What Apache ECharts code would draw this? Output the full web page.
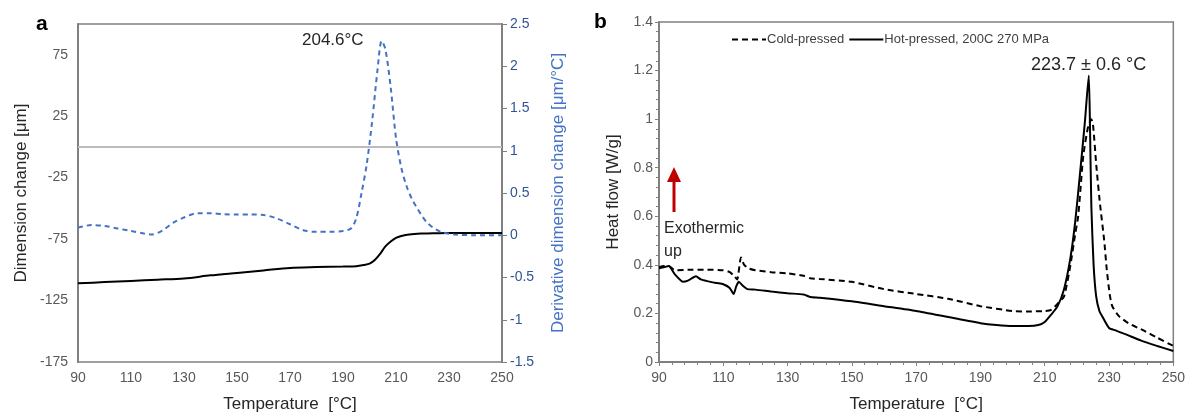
<!DOCTYPE html>
<html><head><meta charset="utf-8">
<script src="https://cdn.jsdelivr.net/npm/echarts@6/dist/echarts.min.js"></script>
<style>html,body{margin:0;padding:0;background:#fff}#c{width:1188px;height:418px}</style>
</head><body><div id="c"></div>
<script>
// ---------- Panel a ----------
const tempDim = [90,100,110,120,130,140,150,160,170,180,190,195,198,200,202,204,206,208,210,212,215,220,225,230,240,250];
const dimChange = [-111,-110,-109,-108,-107,-104.5,-102.5,-100.5,-98.5,-97.8,-97.3,-97,-96,-95,-92,-87,-81,-77,-74,-72.5,-71.2,-70.5,-70.2,-70,-70,-70];

const tempDeriv = [90,95,100,105,110,115,118,122,126,130,135,140,145,150,155,160,165,170,175,180,185,190,193,195,197,199,201,203,204.6,206,208,210,212,214,216,218,220,222,225,228,232,240,250];
const derivChange = [0.09,0.12,0.11,0.08,0.05,0.02,0.01,0.06,0.15,0.21,0.26,0.26,0.25,0.245,0.245,0.24,0.2,0.13,0.06,0.04,0.04,0.05,0.08,0.2,0.5,0.85,1.35,1.95,2.30,2.2,1.75,1.15,0.8,0.58,0.43,0.32,0.22,0.14,0.07,0.03,0.01,0,0];

// ---------- Panel b ----------
const tempHot = [90,91.5,93,95,97.5,99,101.5,103,105,108,110,112,113.2,114,114.8,116,117.5,120,125,130,135,137,140,150,160,170,180,190,195,200,205,208,210,212,214,216,218,219.5,221,222.5,223.7,224.1,224.5,225.2,226,227,228,230,232,235,240,245,250];
const heatHot = [0.386,0.39,0.395,0.36,0.33,0.335,0.353,0.34,0.333,0.325,0.32,0.305,0.28,0.31,0.33,0.315,0.30,0.298,0.29,0.283,0.278,0.268,0.265,0.25,0.23,0.21,0.185,0.16,0.152,0.148,0.148,0.152,0.165,0.195,0.23,0.30,0.43,0.58,0.78,0.99,1.18,0.95,0.64,0.40,0.27,0.21,0.185,0.14,0.13,0.115,0.088,0.066,0.045];

const tempCold = [90,91.5,93,95,100,105,110,112,113.3,114.3,115.5,116.5,118,120,125,130,135,137,140,150,160,170,180,190,200,205,210,212,214,216,218,219.5,220.4,222,223.5,224.5,225,226.1,227.2,228.5,229.3,230.2,231,233,236,241,245,250];
const heatCold = [0.39,0.395,0.395,0.378,0.38,0.38,0.378,0.37,0.355,0.34,0.43,0.40,0.385,0.378,0.37,0.365,0.355,0.345,0.342,0.33,0.30,0.28,0.26,0.23,0.21,0.208,0.21,0.215,0.24,0.27,0.40,0.53,0.6,0.85,0.97,1.0,0.98,0.80,0.65,0.50,0.38,0.28,0.23,0.19,0.16,0.128,0.1,0.066];

const xTicksLabelStep = 20;

const pair = (xs, ys) => xs.map((x, i) => [x, ys[i]]);
const FONT = 'Liberation Sans, Arial, sans-serif';
const GREY = '#808080';
const LBL = '#595959';
const BLUE = '#4472C4';
const BLUE_LBL = '#2F5597';

const chart = echarts.init(document.getElementById('c'), null, {renderer: 'canvas'});
chart.setOption({
  animation: false,
  textStyle: {fontFamily: FONT},
  grid: [
    {left: 78, top: 24, width: 424, height: 339, show: true, borderColor: GREY, borderWidth: 1.5, backgroundColor: 'transparent'},
    {left: 659, top: 22, width: 516, height: 341, show: true, borderColor: GREY, borderWidth: 1.5, backgroundColor: 'transparent'}
  ],
  legend: {
    data: ['Cold-pressed', 'Hot-pressed, 200C 270 MPa'],
    left: 726, top: 28, itemWidth: 34, itemHeight: 10, itemGap: 4,
    itemStyle: {opacity: 0},
    textStyle: {fontSize: 13, color: '#404040', fontFamily: FONT, padding: [0, 0, 0, -4]}
  },
  xAxis: [
    {type: 'value', gridIndex: 0, min: 90, max: 250, interval: xTicksLabelStep,
     name: 'Temperature  [°C]', nameLocation: 'middle', nameGap: 34,
     nameTextStyle: {fontSize: 17, color: '#262626', fontFamily: FONT},
     axisLine: {show: true, lineStyle: {color: GREY, width: 2}},
     axisTick: {show: false}, splitLine: {show: false},
     axisLabel: {fontSize: 14, color: LBL, margin: 9, fontFamily: FONT}},
    {type: 'value', gridIndex: 1, min: 90, max: 250, interval: xTicksLabelStep,
     name: 'Temperature  [°C]', nameLocation: 'middle', nameGap: 34,
     nameTextStyle: {fontSize: 17, color: '#262626', fontFamily: FONT},
     axisLine: {show: true, lineStyle: {color: GREY, width: 2}},
     axisTick: {show: true, length: 4, lineStyle: {color: GREY}},
     minorTick: {show: true, splitNumber: 5, length: 3, lineStyle: {color: GREY}},
     splitLine: {show: false},
     axisLabel: {fontSize: 14, color: LBL, margin: 9, fontFamily: FONT}}
  ],
  yAxis: [
    {type: 'value', gridIndex: 0, min: -175, max: 100, interval: 50,
     name: 'Dimension change [μm]', nameLocation: 'middle', nameGap: 48,
     nameTextStyle: {fontSize: 17, color: '#262626', fontFamily: FONT},
     axisLine: {show: true, lineStyle: {color: GREY, width: 2}},
     axisTick: {show: false}, splitLine: {show: false},
     axisLabel: {fontSize: 14, color: LBL, showMaxLabel: false, margin: 10, fontFamily: FONT}},
    {type: 'value', gridIndex: 0, position: 'right', min: -1.5, max: 2.5, interval: 0.5,
     name: 'Derivative dimension change [μm/°C]', nameLocation: 'middle', nameGap: 48,
     nameTextStyle: {fontSize: 17, color: BLUE, fontFamily: FONT},
     axisLine: {show: true, lineStyle: {color: GREY, width: 2}},
     axisTick: {show: true, length: 5, lineStyle: {color: GREY}},
     splitLine: {show: false},
     axisLabel: {fontSize: 14, color: BLUE_LBL, margin: 8, fontFamily: FONT}},
    {type: 'value', gridIndex: 1, min: 0, max: 1.4, interval: 0.2,
     name: 'Heat flow [W/g]', nameLocation: 'middle', nameGap: 37,
     nameTextStyle: {fontSize: 17, color: '#262626', fontFamily: FONT},
     axisLine: {show: true, lineStyle: {color: GREY, width: 2}},
     axisTick: {show: true, length: 4, lineStyle: {color: GREY}},
     minorTick: {show: true, splitNumber: 5, length: 3, lineStyle: {color: GREY}},
     splitLine: {show: false},
     axisLabel: {fontSize: 14, color: LBL, margin: 6, fontFamily: FONT}}
  ],
  series: [
    {name: 'Dimension change', type: 'line', xAxisIndex: 0, yAxisIndex: 0,
     data: pair(tempDim, dimChange), showSymbol: false, symbol: 'none', smooth: 0.3,
     lineStyle: {color: '#000', width: 2},
     markLine: {silent: true, symbol: 'none', label: {show: false},
       lineStyle: {color: '#d0d0d0', width: 1.5, type: 'solid'}, data: [{yAxis: 0}]}},
    {name: 'Derivative', type: 'line', xAxisIndex: 0, yAxisIndex: 1,
     data: pair(tempDeriv, derivChange), showSymbol: false, symbol: 'none', smooth: 0.3,
     lineStyle: {color: BLUE, width: 2, type: [5, 4]}},
    {name: 'Cold-pressed', type: 'line', xAxisIndex: 1, yAxisIndex: 2,
     data: pair(tempCold, heatCold), showSymbol: false, symbol: 'none', smooth: 0.2,
     lineStyle: {color: '#000', width: 2, type: [6, 4]}, itemStyle: {color: '#000'}},
    {name: 'Hot-pressed, 200C 270 MPa', type: 'line', xAxisIndex: 1, yAxisIndex: 2,
     data: pair(tempHot, heatHot), showSymbol: false, symbol: 'none', smooth: 0.2,
     lineStyle: {color: '#000', width: 2}, itemStyle: {color: '#000'}}
  ],
  graphic: [
    {type: 'text', left: 36, top: 14, style: {text: 'a', font: 'bold 21px ' + FONT, fill: '#000'}},
    {type: 'text', left: 594, top: 12, style: {text: 'b', font: 'bold 21px ' + FONT, fill: '#000'}},
    {type: 'text', left: 302, top: 32, style: {text: '204.6°C', font: '17px ' + FONT, fill: '#262626'}},
    {type: 'text', left: 1031, top: 56, style: {text: '223.7 ± 0.6 °C', font: '18px ' + FONT, fill: '#262626'}},
    {type: 'text', left: 664, top: 221, style: {text: 'Exothermic', font: '16px ' + FONT, fill: '#262626'}},
    {type: 'text', left: 664, top: 244, style: {text: 'up', font: '16px ' + FONT, fill: '#262626'}},
    {type: 'line', shape: {x1: 674, y1: 212, x2: 674, y2: 180}, style: {stroke: '#C00000', lineWidth: 3}},
    {type: 'polygon', shape: {points: [[674, 167], [667, 182], [681, 182]]}, style: {fill: '#C00000'}}
  ]
});
</script>
</body></html>
